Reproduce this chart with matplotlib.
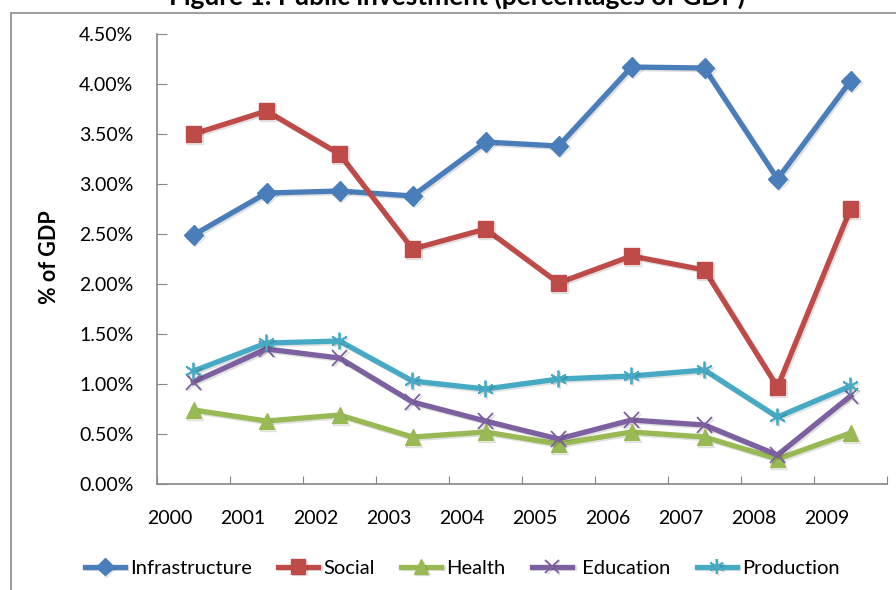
import matplotlib
matplotlib.use("Agg")
import matplotlib.pyplot as plt
import matplotlib.patheffects as pe
from matplotlib.patches import Rectangle
from matplotlib.ticker import FuncFormatter, FixedLocator

plt.rcParams['font.family'] = ['Lato', 'DejaVu Sans']

years = ['2000', '2001', '2002', '2003', '2004', '2005', '2006', '2007', '2008', '2009']
infrastructure = [2.49, 2.91, 2.93, 2.88, 3.42, 3.38, 4.17, 4.16, 3.05, 4.03]
social = [3.50, 3.73, 3.30, 2.35, 2.55, 2.01, 2.28, 2.14, 0.97, 2.75]
health = [0.74, 0.63, 0.69, 0.47, 0.52, 0.40, 0.52, 0.47, 0.25, 0.51]
education = [1.02, 1.35, 1.26, 0.82, 0.63, 0.45, 0.64, 0.59, 0.29, 0.88]
production = [1.13, 1.41, 1.43, 1.03, 0.95, 1.05, 1.08, 1.14, 0.67, 0.98]

series = [
    ('Infrastructure', infrastructure, '#4A7EBB', 'D', 10, 1),
    ('Social', social, '#BE4B48', 's', 11.5, 1),
    ('Health', health, '#98B954', '^', 11.5, 1),
    (' Education', education, '#7D60A0', 'x', 11, 1.3),
    ('Production', production, '#46AAC5', (6, 2, 0), 12, 1.3),
]

W, H = 896, 590
fig = plt.figure(figsize=(W / 100, H / 100), dpi=100)
ax = fig.add_axes([157 / W, 1 - 484 / H, (887 - 157) / W, (484 - 34) / H])

x = list(range(len(years)))
shadow = [pe.SimpleLineShadow(offset=(1.2, -1.2), alpha=0.12, shadow_color='black'), pe.Normal()]
for name, vals, col, mk, ms, mew in series:
    ax.plot(x, [v / 100 for v in vals], color=col, lw=3.8, marker=mk, markersize=ms,
            markeredgewidth=mew, markeredgecolor=col, markerfacecolor=col,
            label=name, path_effects=shadow, solid_joinstyle='miter')

ax.set_xlim(-0.5, len(years) - 0.5)
ax.set_ylim(0, 0.045)
ax.set_yticks([i * 0.005 for i in range(10)])
ax.yaxis.set_major_formatter(FuncFormatter(lambda v, p: '{:.2f}%'.format(v * 100)))

# boundary ticks without labels, labels slightly left of each point
ax.xaxis.set_major_locator(FixedLocator([i - 0.5 for i in range(len(years) + 1)]))
ax.set_xticklabels([])
ax.xaxis.set_minor_locator(FixedLocator([i - 0.32 for i in x]))
ax.set_xticklabels(years, minor=True)
ax.tick_params(axis='x', which='major', direction='in', length=6, color='#868686')
ax.tick_params(axis='x', which='minor', length=0, pad=19, labelsize=14)
ax.tick_params(axis='y', direction='in', length=7, color='#868686', pad=17, labelsize=14)

for s in ['top', 'right']:
    ax.spines[s].set_visible(False)
for s in ['left', 'bottom']:
    ax.spines[s].set_color('#868686')
    ax.spines[s].set_linewidth(1.2)

fig.text(50 / W, 1 - 257 / H, '% of GDP', rotation=90, ha='center', va='center',
         fontsize=15.5, fontweight='bold')
fig.text(457 / W, 1 - 5 / H, 'Figure 1: Public investment (percentages of GDP)',
         ha='center', va='baseline', fontsize=19, fontweight='bold')

fig.patches.append(Rectangle((11 / W, -0.2), 1.2, 1.2 - 13 / H,
                             transform=fig.transFigure, fill=False,
                             edgecolor='#A0A0A0', lw=1.5))

fig.legend(loc='center', bbox_to_anchor=(462 / W, 1 - 568 / H), ncol=5, frameon=False,
           fontsize=14.5, handlelength=2.0, columnspacing=1.3, handletextpad=0.25, numpoints=1,
           markerscale=0.9)

fig.savefig('out.png', dpi=100)
